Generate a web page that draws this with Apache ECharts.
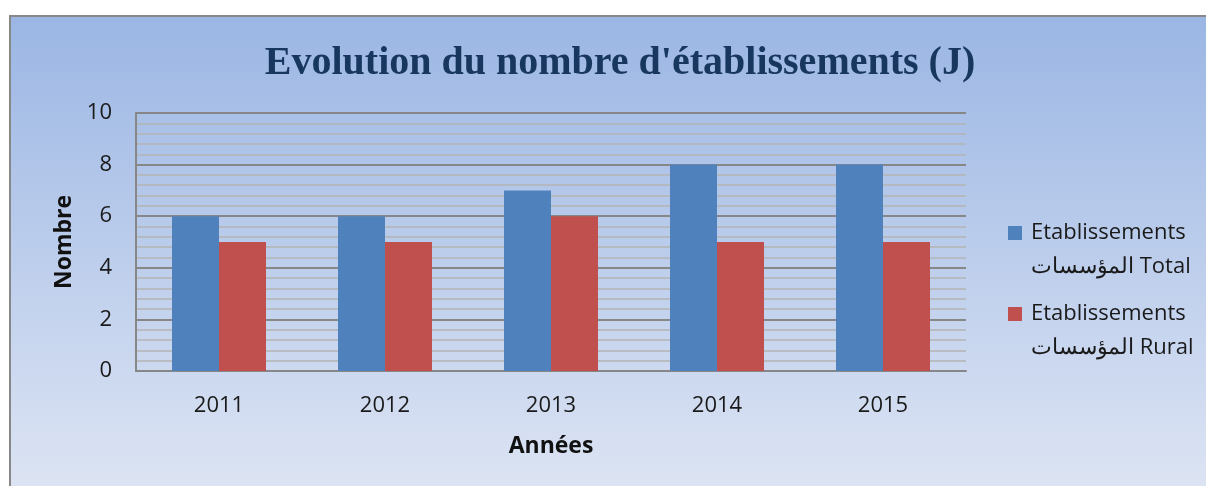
<!DOCTYPE html>
<html>
<head>
<meta charset="utf-8">
<script src="https://cdn.jsdelivr.net/npm/echarts@6/dist/echarts.min.js"></script>
<style>
  html, body { margin: 0; padding: 0; background: #fff; }
  #chart { width: 1206px; height: 486px; }
</style>
</head>
<body>
<div id="chart"></div>
<script>
// données
const years = ['2011', '2012', '2013', '2014', '2015'];
const totalValues = [6, 6, 7, 8, 8];
const ruralValues = [5, 5, 6, 5, 5];
const seriesNames = ['Etablissements المؤسسات Total', 'Etablissements المؤسسات Rural'];

const chart = echarts.init(document.getElementById('chart'));

const labelFont = { fontFamily: 'Open Sans', fontSize: 22, color: '#1a1a1a' };

const option = {
    backgroundColor: '#ffffff',
    animation: false,
    graphic: [{
        type: 'rect',
        z: -10,
        silent: true,
        shape: { x: 10, y: 16, width: 1210, height: 490 },
        style: {
            fill: new echarts.graphic.LinearGradient(0, 0, 0, 1, [
                { offset: 0, color: '#9bb6e4' },
                { offset: 1, color: '#dfe6f4' }
            ]),
            stroke: '#888888',
            lineWidth: 2
        }
    }],
    title: {
        text: "Evolution du nombre d'établissements (J)",
        left: 615,
        top: 39,
        textAlign: 'center',
        textStyle: {
            fontFamily: 'Liberation Serif',
            fontWeight: 'bold',
            fontSize: 40,
            color: '#17375e'
        }
    },
    legend: {
        orient: 'vertical',
        left: 1008,
        top: 216,
        padding: 0,
        itemGap: 13,
        itemWidth: 14,
        itemHeight: 48,
        // carré en haut de la case, aligné sur la première ligne
        icon: 'path://M0,0L14,0L14,14L0,14Z M0,47.99L0.01,47.99L0.01,48L0,48Z',
        data: seriesNames,
        formatter: name => name.replace(' ', '\n'),
        textStyle: {
            fontFamily: 'Open Sans',
            fontSize: 22,
            lineHeight: 34,
            color: '#1a1a1a',
            padding: [0, 0, 0, 4]
        }
    },
    grid: {
        left: 136,
        right: 240,
        top: 113,
        bottom: 115
    },
    xAxis: {
        type: 'category',
        data: years,
        name: 'Années',
        nameLocation: 'middle',
        nameGap: 64,
        nameTextStyle: { fontFamily: 'Open Sans', fontSize: 23, fontWeight: 'bold', color: '#111' },
        axisLine: { lineStyle: { color: '#878787', width: 2 } },
        axisTick: { show: false },
        axisLabel: Object.assign({ margin: 24 }, labelFont)
    },
    yAxis: {
        type: 'value',
        min: 0,
        max: 10,
        interval: 2,
        name: 'Nombre',
        nameLocation: 'middle',
        nameGap: 58,
        nameTextStyle: { fontFamily: 'Open Sans', fontSize: 23, fontWeight: 'bold', color: '#111' },
        axisLine: { show: true, lineStyle: { color: '#878787', width: 2 } },
        axisTick: { show: false },
        axisLabel: Object.assign({ margin: 24 }, labelFont),
        splitLine: { lineStyle: { color: '#878787', width: 2 } },
        minorTick: { show: false, splitNumber: 5 },
        minorSplitLine: { show: true, lineStyle: { color: '#b4b4b4', width: 1.5 } }
    },
    series: [{
        name: seriesNames[0],
        type: 'bar',
        data: totalValues,
        barWidth: 47,
        barGap: '0%',
        itemStyle: { color: '#4f81bd' }
    }, {
        name: seriesNames[1],
        type: 'bar',
        data: ruralValues,
        barWidth: 47,
        barGap: '0%',
        itemStyle: { color: '#c0504d' }
    }]
};

chart.setOption(option);
</script>
</body>
</html>
